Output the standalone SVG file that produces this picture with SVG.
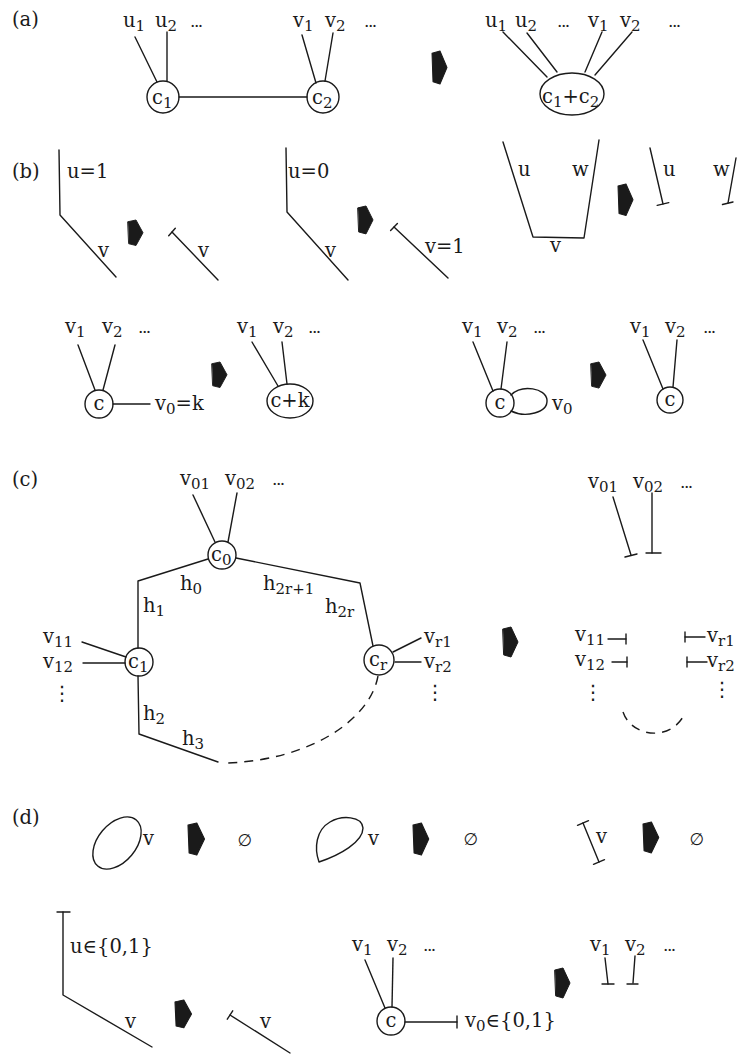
<svg xmlns="http://www.w3.org/2000/svg" width="739" height="1055" viewBox="0 0 739 1055">
<style>
text{font-family:"DejaVu Serif","Liberation Serif",serif;font-size:19.5px;fill:#1a1a1a}
.s{font-size:15px}
.dots{font-size:17px;letter-spacing:-1.5px}
.vd{font-family:"DejaVu Sans",sans-serif;font-size:20px}
.es{font-family:"DejaVu Sans",sans-serif;font-size:17px}
line,polyline,path,circle,ellipse{fill:none;stroke:#1a1a1a;stroke-width:1.4;stroke-linejoin:round;stroke-linecap:round}
.dash{stroke-dasharray:9 7;stroke-linecap:butt}
path.arrp{fill:#1a1a1a;stroke:#1a1a1a;stroke-width:1}
</style>
<defs>
<path id="arr" class="arrp" d="M0,2 L8,0 L15,15 L8,30 L1,28 Z"/>
</defs>

<g id="panel-labels">
<text x="12" y="26">(a)</text>
<text x="12" y="178">(b)</text>
<text x="12" y="486">(c)</text>
<text x="12" y="824">(d)</text>
</g>

<g id="arrows">
<use href="#arr" transform="translate(432,51) scale(1,1.1)"/>
<use href="#arr" transform="translate(128,220) scale(1,0.85)"/>
<use href="#arr" transform="translate(358,206) scale(1,0.93)"/>
<use href="#arr" transform="translate(618,184) scale(1,1.05)"/>
<use href="#arr" transform="translate(212,362) scale(1,0.85)"/>
<use href="#arr" transform="translate(591,362) scale(1,0.87)"/>
<use href="#arr" transform="translate(503,627)"/>
<use href="#arr" transform="translate(188,823) scale(1.1,1.07)"/>
<use href="#arr" transform="translate(413,823) scale(1.05,1.07)"/>
<use href="#arr" transform="translate(643,822) scale(1.05,1.03)"/>
<use href="#arr" transform="translate(175,1000) scale(1.1,0.93)"/>
<use href="#arr" transform="translate(555,968)"/>
</g>

<g id="connectors">
<!-- (a) -->
<line x1="135" y1="37" x2="157" y2="82"/>
<line x1="167" y1="32" x2="167" y2="81"/>
<line x1="302" y1="35" x2="316" y2="83"/>
<line x1="333" y1="33" x2="325" y2="81"/>
<line x1="179" y1="97" x2="307" y2="97"/>
<line x1="503" y1="32" x2="547" y2="77"/>
<line x1="527" y1="33" x2="557" y2="72"/>
<line x1="602" y1="32" x2="585" y2="72"/>
<line x1="632" y1="32" x2="595" y2="75"/>
<!-- (b) row 1 -->
<polyline points="59,150 60,215 116,277"/>
<line x1="172" y1="232" x2="218" y2="280"/>
<line x1="168.7" y1="235.8" x2="175.3" y2="228.2"/>
<polyline points="286,148 287,212 348,280"/>
<line x1="394" y1="227" x2="448" y2="278"/>
<line x1="390.6" y1="230.6" x2="397.4" y2="223.4"/>
<polyline points="503,142 533,237 584,238 599,140"/>
<line x1="650" y1="148" x2="663" y2="204"/>
<line x1="657.2" y1="205.4" x2="668.8" y2="202.6"/>
<line x1="736" y1="158" x2="728" y2="203"/>
<line x1="722.5" y1="204.5" x2="733" y2="202"/>
<!-- (b) row 2 -->
<line x1="78" y1="345" x2="95" y2="390"/>
<line x1="115" y1="345" x2="103" y2="390"/>
<line x1="113" y1="404" x2="150" y2="404"/>
<line x1="252" y1="342" x2="278" y2="386"/>
<line x1="282" y1="342" x2="287" y2="384"/>
<line x1="473" y1="342" x2="493" y2="391"/>
<line x1="507" y1="342" x2="501" y2="389"/>
<path d="M511,395 C522,384 546,388 547,400 C548,413 525,418 511,411"/>
<line x1="643" y1="340" x2="663" y2="389"/>
<line x1="677" y1="340" x2="673" y2="387"/>
<!-- (c) left -->
<line x1="193" y1="495" x2="215" y2="542"/>
<line x1="237" y1="493" x2="228" y2="542"/>
<polyline points="208,559 138,581 138,648"/>
<polyline points="236,558 360,583 373,646"/>
<polyline points="138,676 139,734 218,762"/>
<path class="dash" d="M378,676 C370,720 310,760 227,763"/>
<line x1="82" y1="642" x2="126" y2="657"/>
<line x1="83" y1="663" x2="125" y2="663"/>
<line x1="393" y1="652" x2="421" y2="638"/>
<line x1="395" y1="662" x2="421" y2="662"/>
<!-- (c) right -->
<line x1="613" y1="497" x2="631" y2="555"/>
<line x1="625" y1="557" x2="637" y2="554"/>
<line x1="652" y1="493" x2="652" y2="553"/>
<line x1="646" y1="553" x2="661" y2="553"/>
<line x1="608" y1="639" x2="626" y2="639"/>
<line x1="626" y1="634" x2="626" y2="644"/>
<line x1="612" y1="662" x2="627" y2="662"/>
<line x1="627" y1="657" x2="627" y2="667"/>
<line x1="685" y1="632" x2="685" y2="642"/>
<line x1="685" y1="637" x2="705" y2="637"/>
<line x1="687" y1="657" x2="687" y2="667"/>
<line x1="687" y1="662" x2="707" y2="662"/>
<path class="dash" d="M623,712 C632,738 672,742 685,713"/>
<!-- (d) row 1 -->
<ellipse cx="117" cy="843" rx="30" ry="19" transform="rotate(-50 117 843)"/>
<path d="M319,862 C314,848 316,830 330,822 C342,815 362,816 363,828 C363,842 340,855 319,862 Z"/>
<line x1="583" y1="823" x2="599" y2="862"/>
<line x1="577.5" y1="825.3" x2="588.5" y2="820.7"/>
<line x1="593.5" y1="864.3" x2="604.5" y2="859.7"/>
<!-- (d) row 2 -->
<polyline points="63,912 63,995 152,1047"/>
<line x1="57" y1="912" x2="70" y2="912"/>
<line x1="230" y1="1015" x2="290" y2="1053"/>
<line x1="227.3" y1="1019.2" x2="232.7" y2="1010.8"/>
<line x1="365" y1="960" x2="385" y2="1008"/>
<line x1="393" y1="958" x2="392" y2="1007"/>
<line x1="405" y1="1022" x2="457" y2="1022"/>
<line x1="457" y1="1016" x2="457" y2="1028"/>
<line x1="605" y1="958" x2="608" y2="984"/>
<line x1="602" y1="984" x2="614" y2="984"/>
<line x1="635" y1="956" x2="633" y2="983"/>
<line x1="627" y1="984" x2="638" y2="984"/>
</g>

<g id="nodes-a">
<g id="a-labels-left">
<text x="123" y="27">u<tspan class="s" dy="4">1</tspan></text>
<text x="155" y="27">u<tspan class="s" dy="4">2</tspan></text>
<text class="dots" x="190" y="27">...</text>
<text x="293" y="27">v<tspan class="s" dy="4">1</tspan></text>
<text x="325" y="27">v<tspan class="s" dy="4">2</tspan></text>
<text class="dots" x="364" y="27">...</text>
</g>
<g id="node-c1"><circle cx="163" cy="97" r="16"/><text x="152" y="104">c<tspan class="s" dy="4">1</tspan></text></g>
<g id="node-c2"><circle cx="323" cy="97" r="16"/><text x="312" y="104">c<tspan class="s" dy="4">2</tspan></text></g>
<g id="node-c1c2"><ellipse cx="572" cy="94" rx="32" ry="21"/><text x="542" y="103">c<tspan class="s" dy="4">1</tspan><tspan dy="-4">+c</tspan><tspan class="s" dy="4">2</tspan></text></g>
<g id="a-labels-right">
<text x="485" y="27">u<tspan class="s" dy="4">1</tspan></text>
<text x="515" y="27">u<tspan class="s" dy="4">2</tspan></text>
<text class="dots" x="557" y="27">...</text>
<text x="588" y="27">v<tspan class="s" dy="4">1</tspan></text>
<text x="620" y="27">v<tspan class="s" dy="4">2</tspan></text>
<text class="dots" x="668" y="27">...</text>
</g>
</g>

<g id="nodes-b">
<text x="67" y="178">u=1</text>
<text x="98" y="257">v</text>
<text x="198" y="257">v</text>
<text x="288" y="178">u=0</text>
<text x="325" y="257">v</text>
<text x="425" y="253">v=1</text>
<text x="518" y="176">u</text>
<text x="572" y="176">w</text>
<text x="550" y="252">v</text>
<text x="663" y="176">u</text>
<text x="713" y="176">w</text>

<text x="65" y="333">v<tspan class="s" dy="4">1</tspan></text>
<text x="102" y="333">v<tspan class="s" dy="4">2</tspan></text>
<text class="dots" x="138" y="333">...</text>
<g id="node-b-c"><circle cx="99" cy="404" r="14"/><text x="99" y="410" text-anchor="middle">c</text></g>
<text x="155" y="410">v<tspan class="s" dy="4">0</tspan><tspan dy="-4">=k</tspan></text>
<text x="237" y="333">v<tspan class="s" dy="4">1</tspan></text>
<text x="273" y="333">v<tspan class="s" dy="4">2</tspan></text>
<text class="dots" x="308" y="333">...</text>
<g id="node-b-ck"><ellipse cx="290" cy="401" rx="23" ry="17"/><text x="290" y="407" text-anchor="middle">c+k</text></g>

<text x="462" y="333">v<tspan class="s" dy="4">1</tspan></text>
<text x="497" y="333">v<tspan class="s" dy="4">2</tspan></text>
<text class="dots" x="533" y="333">...</text>
<g id="node-b-c-loop"><circle cx="500" cy="403" r="14"/><text x="500" y="409" text-anchor="middle">c</text></g>
<text x="552" y="410">v<tspan class="s" dy="4">0</tspan></text>
<text x="630" y="333">v<tspan class="s" dy="4">1</tspan></text>
<text x="665" y="333">v<tspan class="s" dy="4">2</tspan></text>
<text class="dots" x="703" y="333">...</text>
<g id="node-b-c-after"><circle cx="670" cy="400" r="13"/><text x="670" y="406" text-anchor="middle">c</text></g>
</g>

<g id="nodes-c">
<text x="180" y="485">v<tspan class="s" dy="4">01</tspan></text>
<text x="225" y="485">v<tspan class="s" dy="4">02</tspan></text>
<text class="dots" x="272" y="485">...</text>
<g id="node-c0"><circle cx="222" cy="555" r="14"/><text x="211" y="561">c<tspan class="s" dy="4">0</tspan></text></g>
<g id="node-c1b"><circle cx="139" cy="662" r="14"/><text x="128" y="668">c<tspan class="s" dy="4">1</tspan></text></g>
<g id="node-cr"><circle cx="379" cy="660" r="15"/><text x="369" y="666">c<tspan class="s" dy="4">r</tspan></text></g>
<text x="180" y="590">h<tspan class="s" dy="4">0</tspan></text>
<text x="263" y="590">h<tspan class="s" dy="4">2r+1</tspan></text>
<text x="143" y="612">h<tspan class="s" dy="4">1</tspan></text>
<text x="325" y="613">h<tspan class="s" dy="4">2r</tspan></text>
<text x="143" y="720">h<tspan class="s" dy="4">2</tspan></text>
<text x="182" y="745">h<tspan class="s" dy="4">3</tspan></text>
<text x="43" y="643">v<tspan class="s" dy="4">11</tspan></text>
<text x="43" y="668">v<tspan class="s" dy="4">12</tspan></text>
<text class="vd" x="62" y="700" text-anchor="middle">⋮</text>
<text x="424" y="643">v<tspan class="s" dy="4">r1</tspan></text>
<text x="424" y="668">v<tspan class="s" dy="4">r2</tspan></text>
<text class="vd" x="435" y="699" text-anchor="middle">⋮</text>

<text x="588" y="488">v<tspan class="s" dy="4">01</tspan></text>
<text x="633" y="488">v<tspan class="s" dy="4">02</tspan></text>
<text class="dots" x="680" y="488">...</text>
<text x="575" y="641">v<tspan class="s" dy="4">11</tspan></text>
<text x="575" y="666">v<tspan class="s" dy="4">12</tspan></text>
<text class="vd" x="593" y="699" text-anchor="middle">⋮</text>
<text x="707" y="642">v<tspan class="s" dy="4">r1</tspan></text>
<text x="707" y="667">v<tspan class="s" dy="4">r2</tspan></text>
<text class="vd" x="722" y="696" text-anchor="middle">⋮</text>
</g>

<g id="nodes-d">
<text x="143" y="845">v</text>
<text class="es" x="245" y="846" text-anchor="middle">∅</text>
<text x="368" y="845">v</text>
<text class="es" x="471" y="845" text-anchor="middle">∅</text>
<text x="596" y="843">v</text>
<text class="es" x="697" y="845" text-anchor="middle">∅</text>

<text x="70" y="953">u∈{0,1}</text>
<text x="125" y="1028">v</text>
<text x="260" y="1028">v</text>
<text x="352" y="951">v<tspan class="s" dy="4">1</tspan></text>
<text x="387" y="951">v<tspan class="s" dy="4">2</tspan></text>
<text class="dots" x="423" y="951">...</text>
<g id="node-d-c"><circle cx="391" cy="1021" r="14"/><text x="391" y="1027" text-anchor="middle">c</text></g>
<text x="465" y="1027">v<tspan class="s" dy="4">0</tspan><tspan dy="-4">∈{0,1}</tspan></text>
<text x="590" y="951">v<tspan class="s" dy="4">1</tspan></text>
<text x="625" y="951">v<tspan class="s" dy="4">2</tspan></text>
<text class="dots" x="663" y="951">...</text>
</g>
</svg>
